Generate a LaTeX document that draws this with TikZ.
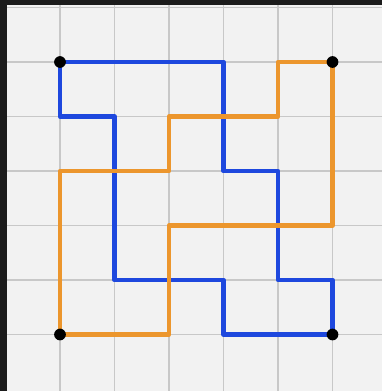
\documentclass[tikz,border=0pt]{standalone}
\usetikzlibrary{calc}
\definecolor{penblue}{RGB}{30,72,222}
\definecolor{penorange}{RGB}{236,150,45}
\definecolor{paper}{RGB}{242,242,242}
\definecolor{gridgray}{RGB}{200,200,200}
\definecolor{frame}{RGB}{28,28,28}

\begin{document}
\begin{tikzpicture}[
    x=0.03cm, y=-0.03cm,
    gridline/.style={draw=gridgray, line width=1.2pt},
    pen/.style={line width=3.8pt, line cap=round, line join=round},
    dot/.style={circle, fill=black, inner sep=0pt, minimum size=10pt},
    ]

    % ── sheet ───────────────────────────────────────────────────────
    \fill[frame] (0,0) rectangle (382,391);
    \fill[paper] (7,5) rectangle (382,391);
    \useasboundingbox (0,0) rectangle (382,391);

    \begin{scope}
        \clip (7,5) rectangle (382,391);
        \foreach \k in {0,...,6} {
            \draw[gridline] (5.5+54.5*\k, 5) -- (5.5+54.5*\k, 391);
            \draw[gridline] (7, 7.5+54.5*\k) -- (382, 7.5+54.5*\k);
        }
    \end{scope}

    % ── grid points ─────────────────────────────────────────────────
    \foreach \i in {0,...,5}
        \foreach \j in {0,...,5}
            \coordinate (p\i\j) at (60+54.5*\i, 62+54.5*\j);

    % ── blue loop ───────────────────────────────────────────────────
    \draw[pen, penblue] (p00) -- (p30) -- (p32) -- (p42) -- (p44) -- (p54)
        -- (p55) -- (p35) -- (p34) -- (p14) -- (p11) -- (p01) -- cycle;

    % ── orange loop ─────────────────────────────────────────────────
    \draw[pen, penorange] (p50) -- (p40) -- (p41) -- (p21) -- (p22) -- (p02)
        -- (p05) -- (p25) -- (p23) -- (p53) -- cycle;

    % ── corners ─────────────────────────────────────────────────────
    \node[dot] (topleft) at (p00) {};
    \node[dot] (topright) at (p50) {};
    \node[dot] (bottomleft) at (p05) {};
    \node[dot] (bottomright) at (p55) {};

\end{tikzpicture}
\end{document}
